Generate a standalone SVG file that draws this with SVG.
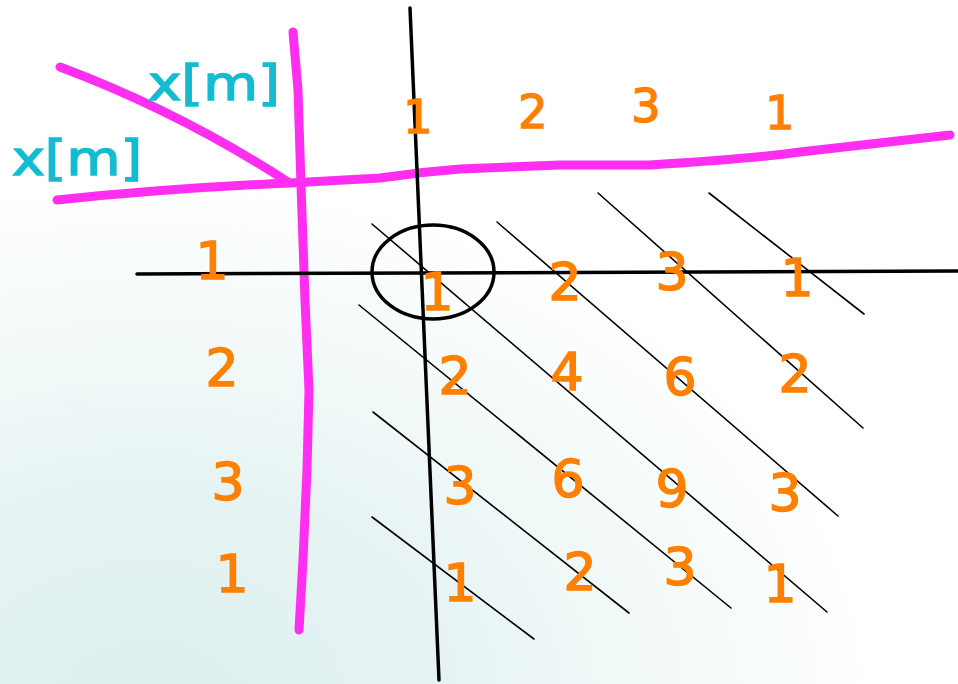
<svg xmlns="http://www.w3.org/2000/svg" width="958" height="684" viewBox="0 0 958 684">
  <defs>
    <radialGradient id="bg" cx="150" cy="700" r="520" gradientUnits="userSpaceOnUse" gradientTransform="translate(150,700) scale(1.4,1) translate(-150,-700)">
      <stop offset="0" stop-color="#ddefef"/>
      <stop offset="0.4" stop-color="#e6f3f3"/>
      <stop offset="0.7" stop-color="#f3f9f9"/>
      <stop offset="1" stop-color="#ffffff"/>
    </radialGradient>
    <style>
      .mag { fill: none; stroke: #ff2ef0; stroke-width: 9; stroke-linecap: round; stroke-linejoin: round; }
      .axis { fill: none; stroke: #000; stroke-width: 3.5; stroke-linecap: round; }
      .hatch { fill: none; stroke: #000; stroke-width: 1.6; stroke-linecap: round; }
      .num { font-family: "DejaVu Sans", "Liberation Sans", sans-serif; font-size: 52px; fill: #ff8000; stroke: #ff8000; stroke-width: 1.5; text-anchor: middle; }
      .top { font-size: 46px; }
      .lbl { font-family: "DejaVu Sans", "Liberation Sans", sans-serif; font-size: 48px; fill: #14bcd2; stroke: #14bcd2; stroke-width: 1.5; }
    </style>
  </defs>
  <rect x="0" y="0" width="958" height="684" fill="url(#bg)"/>

  <g id="magenta-axes">
    <path class="mag" d="M293,32 L298,90 L301,185 L305,300 L309,390 L307,470 L303,560 L299,630"/>
    <path class="mag" d="M60,67 Q180,112 288,182"/>
    <path class="mag" d="M57,200 Q170,188 290,183 L380,178 Q420,172 460,169 L560,165 L650,165 Q760,158 800,152 L950,135"/>
  </g>

  <g id="labels">
    <text class="lbl" x="148" y="100" textLength="132" lengthAdjust="spacingAndGlyphs">x[m]</text>
    <text class="lbl" x="12" y="175" textLength="130" lengthAdjust="spacingAndGlyphs">x[m]</text>
  </g>

  <g id="black-axes">
    <line class="axis" x1="410" y1="8" x2="439" y2="680"/>
    <line class="axis" x1="137" y1="274" x2="958" y2="271"/>
    <ellipse cx="433" cy="272" rx="61" ry="47" fill="none" stroke="#000" stroke-width="3.5"/>
  </g>

  <g id="hatches">
    <line class="hatch" x1="372" y1="224" x2="827" y2="612"/>
    <line class="hatch" x1="497" y1="222" x2="838" y2="516"/>
    <line class="hatch" x1="598" y1="193" x2="863" y2="428"/>
    <line class="hatch" x1="709" y1="193" x2="864" y2="314"/>
    <line class="hatch" x1="359" y1="305" x2="731" y2="608"/>
    <line class="hatch" x1="373" y1="412" x2="629" y2="613"/>
    <line class="hatch" x1="372" y1="517" x2="534" y2="639"/>
  </g>

  <g id="top-row">
    <text class="num top" x="418" y="133">1</text>
    <text class="num top" x="533" y="128">2</text>
    <text class="num top" x="646" y="122">3</text>
    <text class="num top" x="780" y="129">1</text>
  </g>

  <g id="left-column">
    <text class="num" x="212" y="279">1</text>
    <text class="num" x="222" y="386">2</text>
    <text class="num" x="228" y="500">3</text>
    <text class="num" x="232" y="592">1</text>
  </g>

  <g id="products">
    <text class="num" x="437" y="310">1</text>
    <text class="num" x="565" y="300">2</text>
    <text class="num" x="672" y="290">3</text>
    <text class="num" x="797" y="296">1</text>

    <text class="num" x="455" y="394">2</text>
    <text class="num" x="567" y="390">4</text>
    <text class="num" x="680" y="395">6</text>
    <text class="num" x="795" y="392">2</text>

    <text class="num" x="460" y="504">3</text>
    <text class="num" x="568" y="497">6</text>
    <text class="num" x="672" y="507">9</text>
    <text class="num" x="785" y="511">3</text>

    <text class="num" x="460" y="601">1</text>
    <text class="num" x="580" y="590">2</text>
    <text class="num" x="680" y="585">3</text>
    <text class="num" x="780" y="602">1</text>
  </g>
</svg>
